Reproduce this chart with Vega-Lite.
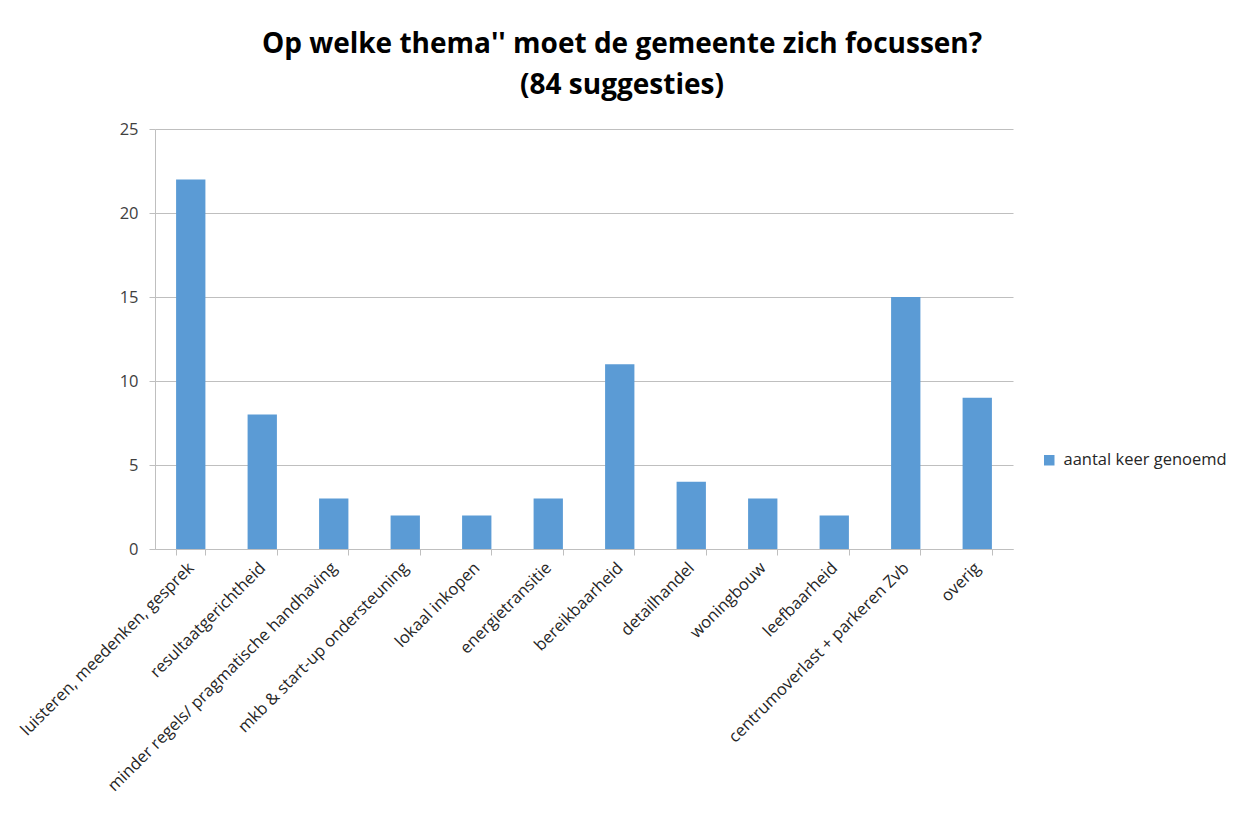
{
  "$schema": "https://vega.github.io/schema/vega-lite/v6.json",
  "autosize": {"type": "none"},
  "width": 858,
  "height": 420,
  "padding": {"left": 155, "top": 129, "right": 230, "bottom": 265},
  "background": "white",
  "title": {
    "text": ["Op welke thema'' moet de gemeente zich focussen?", "(84 suggesties)"],
    "font": "Open Sans",
    "fontSize": 28,
    "fontWeight": "bold",
    "color": "#000000",
    "anchor": "middle",
    "dx": 38,
    "offset": 21,
    "lineHeight": 41
  },
  "data": {
    "values": [
      {"thema": "luisteren, meedenken, gesprek", "aantal": 22, "serie": "aantal keer genoemd"},
      {"thema": "resultaatgerichtheid", "aantal": 8, "serie": "aantal keer genoemd"},
      {"thema": "minder regels/ pragmatische handhaving", "aantal": 3, "serie": "aantal keer genoemd"},
      {"thema": "mkb & start-up ondersteuning", "aantal": 2, "serie": "aantal keer genoemd"},
      {"thema": "lokaal inkopen", "aantal": 2, "serie": "aantal keer genoemd"},
      {"thema": "energietransitie", "aantal": 3, "serie": "aantal keer genoemd"},
      {"thema": "bereikbaarheid", "aantal": 11, "serie": "aantal keer genoemd"},
      {"thema": "detailhandel", "aantal": 4, "serie": "aantal keer genoemd"},
      {"thema": "woningbouw", "aantal": 3, "serie": "aantal keer genoemd"},
      {"thema": "leefbaarheid", "aantal": 2, "serie": "aantal keer genoemd"},
      {"thema": "centrumoverlast + parkeren Zvb", "aantal": 15, "serie": "aantal keer genoemd"},
      {"thema": "overig", "aantal": 9, "serie": "aantal keer genoemd"}
    ]
  },
  "mark": {"type": "bar"},
  "encoding": {
    "x": {
      "field": "thema",
      "type": "nominal",
      "sort": null,
      "title": null,
      "scale": {"paddingInner": 0.59, "paddingOuter": 0.295},
      "axis": {
        "labelAngle": -45,
        "labelAlign": "right",
        "labelBaseline": "middle",
        "labelFont": "Open Sans",
        "labelFontSize": 16.5,
        "labelColor": "#262626",
        "labelPadding": 10,
        "labelLimit": 500,
        "labelOverlap": false,
        "tickBand": "extent",
        "tickColor": "#BFBFBF",
        "tickSize": 6,
        "domainColor": "#BFBFBF",
        "grid": false
      }
    },
    "y": {
      "field": "aantal",
      "type": "quantitative",
      "title": null,
      "scale": {"domain": [0, 25], "nice": false},
      "axis": {
        "values": [0, 5, 10, 15, 20, 25],
        "labelFont": "Open Sans",
        "labelFontSize": 16.5,
        "labelColor": "#404040",
        "labelPadding": 11,
        "tickColor": "#BFBFBF",
        "tickSize": 6,
        "domainColor": "#BFBFBF",
        "gridColor": "#BFBFBF",
        "gridWidth": 1
      }
    },
    "color": {
      "field": "serie",
      "type": "nominal",
      "scale": {"range": ["#5B9BD5"]},
      "legend": {
        "title": null,
        "orient": "none",
        "legendX": 886,
        "legendY": 323,
        "symbolType": "square",
        "symbolSize": 110,
        "symbolStrokeWidth": 0,
        "labelFont": "Open Sans",
        "labelFontSize": 16.5,
        "labelColor": "#262626",
        "labelOffset": 6,
        "labelLimit": 400
      }
    }
  },
  "config": {
    "view": {"stroke": null}
  }
}
